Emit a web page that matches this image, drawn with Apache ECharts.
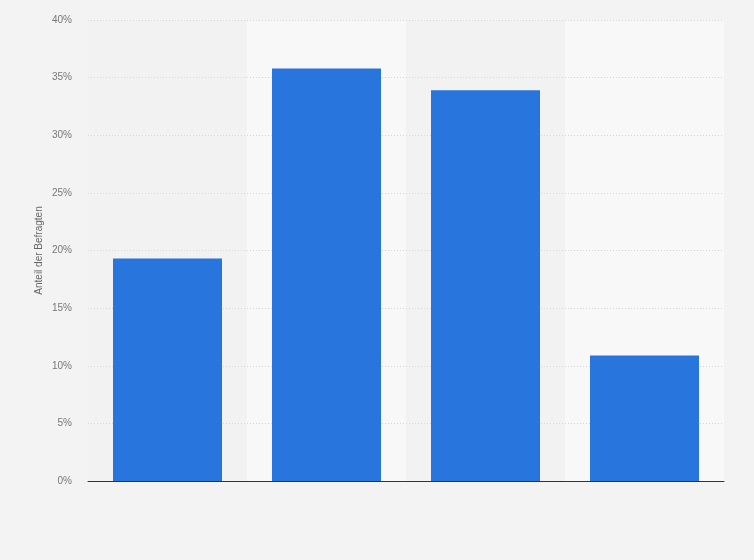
<!DOCTYPE html>
<html><head><meta charset="utf-8">
<script src="https://cdn.jsdelivr.net/npm/echarts@6/dist/echarts.min.js"></script>
<style>html,body{margin:0;padding:0;background:#f3f3f3}#c{width:754px;height:560px}</style>
</head><body><div id="c"></div>
<script>
const categories = ['A', 'B', 'C', 'D'];
const values = [19.3, 35.8, 33.9, 10.9];
const yTicks = [0, 5, 10, 15, 20, 25, 30, 35, 40];

const chart = echarts.init(document.getElementById('c'), null, {renderer: 'canvas'});
chart.setOption({
  backgroundColor: '#f3f3f3',
  animation: false,
  grid: {left: 88, right: 30, top: 20, bottom: 79},
  xAxis: {
    type: 'category',
    data: categories,
    z: 0,
    axisLine: {lineStyle: {color: '#333', width: 1}},
    axisTick: {show: false},
    axisLabel: {show: false},
    splitArea: {show: true, areaStyle: {color: ['#f2f2f2', '#f8f8f8']}}
  },
  yAxis: {
    type: 'value',
    z: 1,
    min: yTicks[0],
    max: yTicks[yTicks.length - 1],
    interval: 5,
    name: 'Anteil der Befragten',
    nameLocation: 'middle',
    nameGap: 44,
    nameMoveOverlap: false,
    nameTextStyle: {color: '#666', fontSize: 10, fontFamily: 'Arial, Liberation Sans'},
    axisLine: {show: false},
    axisTick: {show: false},
    axisLabel: {color: '#777', fontSize: 10, fontFamily: 'Arial, Liberation Sans', formatter: '{value}%', margin: 16},
    splitLine: {showMinLine: false, lineStyle: {color: '#d6d6d6', type: [1, 2]}}
  },
  series: [{
    type: 'bar',
    data: values,
    barWidth: 109,
    itemStyle: {color: '#2876dd'}
  }]
});
</script></body></html>
